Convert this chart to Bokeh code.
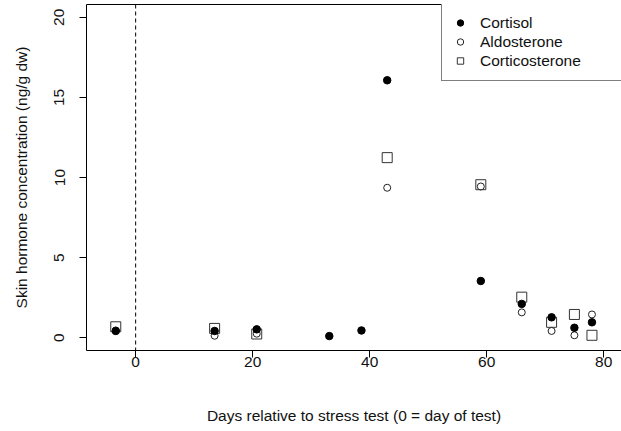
import math
from bokeh.plotting import figure
from bokeh.models import Range1d, Span, Legend, LegendItem, LinearAxis, FixedTicker, ColumnDataSource
from bokeh.embed import file_html
from bokeh.resources import INLINE

nan = float("nan")

# Data
days = [-3.4, 13.5, 20.7, 33.1, 38.6, 43.0, 59.0, 66.0, 71.1, 75.0, 78.0]
cortisol = [0.42, 0.42, 0.52, 0.10, 0.45, 16.07, 3.54, 2.11, 1.27, 0.62, 0.96]
aldosterone = [0.45, 0.12, 0.25, nan, nan, 9.36, 9.44, 1.58, 0.42, 0.15, 1.45]
corticosterone = [0.68, 0.58, 0.23, nan, nan, 11.24, 9.55, 2.53, 0.96, 1.45, 0.15]

x_ticks = [0, 20, 40, 60, 80]
y_ticks = [0, 5, 10, 15, 20]
series_names = ["Cortisol", "Aldosterone", "Corticosterone"]

FONT = "Liberation Sans"
FS = "15.5px"

src = ColumnDataSource(dict(day=days, cort=cortisol, aldo=aldosterone, corti=corticosterone))

p = figure(width=621, height=431, output_backend="svg", toolbar_location=None,
           x_range=Range1d(-8.4, 83.05), y_range=Range1d(-0.8, 20.8),
           min_border_left=86, min_border_right=0, min_border_top=4, min_border_bottom=81,
           background_fill_color="white", border_fill_color="white")
p.outline_line_color = None
p.grid.visible = False

for ax in (p.xaxis[0], p.yaxis[0]):
    ax.major_tick_out = 7
    ax.major_tick_in = 0
    ax.minor_tick_out = 0
    ax.minor_tick_in = 0
    ax.axis_line_color = "black"
    ax.major_tick_line_color = "black"
    ax.major_label_text_font = FONT
    ax.major_label_text_font_size = FS
    ax.major_label_text_color = "#111111"
    ax.axis_label_text_font = FONT
    ax.axis_label_text_font_size = FS
    ax.axis_label_text_font_style = "normal"
    ax.axis_label_text_color = "#111111"

p.xaxis.ticker = FixedTicker(ticks=x_ticks)
p.yaxis.ticker = FixedTicker(ticks=y_ticks)
p.xaxis.axis_label = "Days relative to stress test (0 = day of test)"
p.yaxis.axis_label = "Skin hormone concentration (ng/g dw)"
p.yaxis.major_label_orientation = "vertical"
p.xaxis.major_label_standoff = -1
p.yaxis.major_label_standoff = 15
p.xaxis.axis_label_standoff = 37
p.yaxis.axis_label_standoff = 22

top = LinearAxis(ticker=FixedTicker(ticks=[]), major_tick_out=0, major_tick_in=0,
                 minor_tick_out=0, minor_tick_in=0, major_label_text_font_size="0px",
                 major_label_standoff=0, axis_line_color="black")
p.add_layout(top, "above")

p.add_layout(Span(location=0, dimension="height", line_color="black",
                  line_dash="4 3", line_width=1))

r_aldo = p.scatter("day", "aldo", source=src, marker="circle", size=7,
                   fill_color=None, line_color="#222222", line_width=1)
r_corti = p.scatter("day", "corti", source=src, marker="square", size=10,
                    fill_color=None, line_color="#333333", line_width=1)
r_cort = p.scatter("day", "cort", source=src, marker="circle", size=7.5,
                   fill_color="black", line_color="black", line_width=1)

legend = Legend(items=[LegendItem(label=series_names[0], renderers=[r_cort]),
                       LegendItem(label=series_names[1], renderers=[r_aldo]),
                       LegendItem(label=series_names[2], renderers=[r_corti])],
                location=(355, 269), margin=0, padding=10, spacing=0,
                glyph_width=16, glyph_height=19, label_height=19, label_width=170,
                label_standoff=12, label_text_font=FONT, label_text_font_size=FS,
                label_text_color="#111111",
                border_line_color="black", border_line_width=1,
                background_fill_color="white", background_fill_alpha=1.0)
p.add_layout(legend, "center")

open("out.html", "w").write(file_html(p, INLINE))
